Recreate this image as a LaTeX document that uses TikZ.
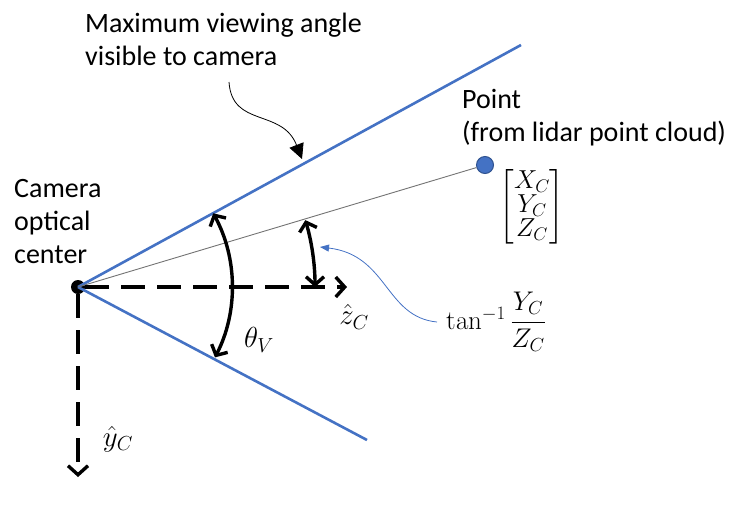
\RequirePackage{fix-cm}
\documentclass[tikz,border=0pt]{standalone}
\usepackage[no-math]{fontspec}
\setmainfont{Carlito}
\usepackage{amsmath}
\usetikzlibrary{arrows.meta}
\definecolor{camblue}{RGB}{68,114,196}
\definecolor{ptedge}{RGB}{47,82,143}

\begin{document}
\begin{tikzpicture}[x=1pt, y=-1pt,
  % lines of the field of view
  fov/.style={camblue, line width=2.6pt},
  ray/.style={black!55, line width=0.9pt},
  % dashed camera axes
  axis/.style={line width=3.4pt, dash pattern=on 24pt off 12pt, -{Straight Barb[length=9pt, width=20pt]}},
  anglearc/.style={line width=3.4pt, {Straight Barb[length=8pt, width=18pt]}-{Straight Barb[length=8pt, width=18pt]}},
  textlabel/.style={font=\fontsize{28}{33}\selectfont, align=left, anchor=north west, inner sep=0pt},
  mathlabel/.style={font=\fontsize{29}{34}\selectfont, inner sep=0pt}
]
\useasboundingbox (0,0) rectangle (733,512);

% camera center and the lidar point
\node[circle, fill=black, minimum size=14pt, inner sep=0pt] (O) at (78,287) {};
\node[circle, fill=camblue, draw=ptedge, line width=1pt, minimum size=17pt, inner sep=0pt] (P) at (485,165) {};
\coordinate (fovtop) at (521,45);
\coordinate (fovbot) at (367,440);
\coordinate (zend) at (347,287);
\coordinate (yend) at (78,477);
\coordinate (tailfov) at (229,82);
\coordinate (tipfov) at (302,159);
\coordinate (tipang) at (320,247);

% field of view and ray to the point
\draw[fov] (O.center) -- (fovtop);
\draw[fov] (O.center) -- (fovbot);
\draw[ray] (O.center) -- (P);

% axes
\draw[axis] (O) -- (zend);
\draw[axis] (O) -- (yend);

% angles
\draw[anglearc] (O.center) ++(-28.6:154) arc[start angle=-28.6, end angle=27.2, radius=154];
\draw[anglearc] (O.center) ++(-16.4:237) arc[start angle=-16.4, end angle=0, radius=237];

% texts
\node[textlabel] (maxview) at (85,13) {Maximum viewing angle\\visible to camera};
\node[textlabel] (point) at (462,89) {Point\\(from lidar point cloud)};
\node[textlabel] (camctr) at (14,179) {Camera\\optical\\center};
\node[mathlabel, font=\fontsize{26}{30}\selectfont] (pvec) at (532,207) {$\renewcommand{\arraystretch}{0.72}\begin{bmatrix} X_C\\ Y_C\\ Z_C \end{bmatrix}$};
\node[mathlabel] (zhat) at (354,317) {$\hat{z}_C$};
\node[mathlabel] (yhat) at (118,439) {$\hat{y}_C$};
\node[mathlabel] (thetav) at (259,340) {$\theta_V$};
\node[mathlabel, anchor=west, font=\fontsize{27}{32}\selectfont] (tanlbl) at (446,322) {$\tan^{-1}\dfrac{Y_C}{Z_C}$};

% pointers
\draw[black, line width=0.8pt, -{Triangle[length=15pt, width=15pt]}] (tailfov) .. controls (232,128) and (282,108) .. (tipfov);
\draw[camblue, line width=0.8pt, -{Triangle[length=9pt, width=7pt]}] ([xshift=-9pt]tanlbl.west) .. controls (385,317) and (388,255) .. (tipang);

\end{tikzpicture}
\end{document}
